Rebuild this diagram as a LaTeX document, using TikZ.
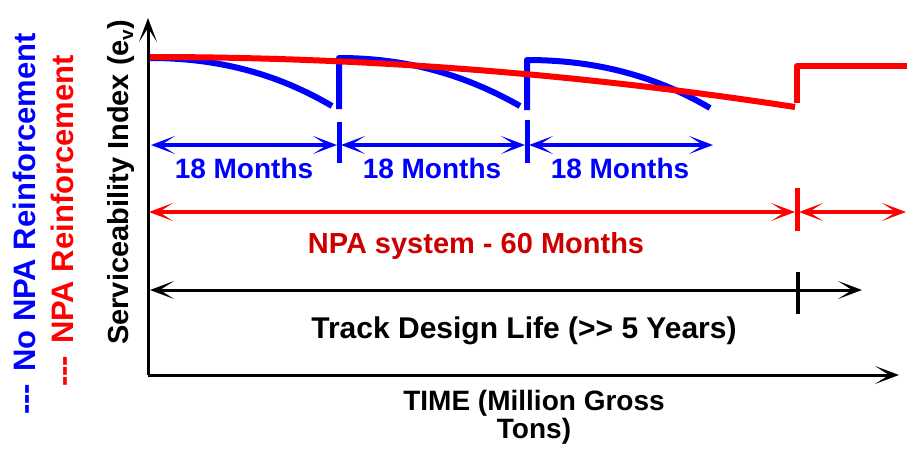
\documentclass[tikz,border=0pt]{standalone}
\usepackage{fontspec}
\setmainfont{Liberation Sans}
\usetikzlibrary{arrows.meta}
\definecolor{npablue}{RGB}{0,0,255}
\definecolor{npared}{RGB}{255,0,0}
\definecolor{labelred}{RGB}{204,0,0}
\tikzset{
  axisline/.style={line width=3pt,->},
  trend/.style={line width=6pt,line join=round},
  dimline/.style={line width=3.5pt,<->},
  tickline/.style={line width=5pt},
  lbl/.style={inner sep=0pt,font=\fontsize{28}{28}\selectfont\bfseries},
  legend/.style={inner sep=0pt,rotate=90,anchor=base west,font=\fontsize{31}{31}\selectfont\bfseries}
}
\begin{document}
\begin{tikzpicture}[x=1pt,y=-1pt,>={Stealth[length=24pt,width=18pt,inset=14pt]}]
\useasboundingbox (0,0) rectangle (907,450);

% axes
\coordinate (O) at (148,375);
\coordinate (ytop) at (148,18);
\coordinate (xend) at (899,375);
\draw[axisline] (O) -- (ytop);
\draw[axisline] (O) -- (xend);

% serviceability without reinforcement: three 18-month cycles
\draw[trend,npablue] (150,58) .. controls (223,58) and (281,76) .. (332,106);
\draw[trend,npablue] (339,109) -- (339,58) .. controls (411,58) and (469,77) .. (520,106);
\draw[trend,npablue] (527,110) -- (527,60) .. controls (600,60) and (659,78) .. (710,108);

% serviceability with NPA reinforcement
\draw[trend,npared] (150,57) .. controls (365,57) and (580,74) .. (795,107);
\draw[trend,npared] (797,103) -- (797,66) -- (907,66);

% 18-month intervals
\coordinate (b0) at (151,145);
\coordinate (b1l) at (337,145);
\coordinate (b1r) at (341,145);
\coordinate (b2l) at (525,145);
\coordinate (b2r) at (529,145);
\coordinate (b3) at (713,145);
\draw[dimline,npablue] (b0) -- (b1l);
\draw[dimline,npablue] (b1r) -- (b2l);
\draw[dimline,npablue] (b2r) -- (b3);
\draw[tickline,npablue] (339,122) -- (339,163);
\draw[tickline,npablue] (527,120) -- (527,163);
\node[lbl,npablue,anchor=base] (m1) at (244,178) {18 Months};
\node[lbl,npablue,anchor=base] (m2) at (432,178) {18 Months};
\node[lbl,npablue,anchor=base] (m3) at (620,178) {18 Months};

% NPA system interval
\coordinate (r0) at (149,212);
\coordinate (r1l) at (795,212);
\coordinate (r1r) at (799,212);
\coordinate (r2) at (906,212);
\draw[dimline,npared] (r0) -- (r1l);
\draw[dimline,npared] (r1r) -- (r2);
\draw[tickline,npared] (797,188) -- (797,231);
\node[lbl,labelred,anchor=base,font=\fontsize{29}{29}\selectfont\bfseries] (npa) at (476,253) {NPA system - 60 Months};

% track design life
\coordinate (k0) at (150,290);
\coordinate (k1) at (862,290);
\draw[dimline,line width=3pt] (k0) -- (k1);
\draw[tickline,line width=4.5pt] (798,272) -- (798,314);
\node[lbl,anchor=base,font=\fontsize{30}{30}\selectfont\bfseries] (life) at (524,338) {Track Design Life (>{}> 5 Years)};

% axis titles
\node[lbl,anchor=base] (xt1) at (534,410) {TIME (Million Gross};
\node[lbl,anchor=base] (xt2) at (534,438) {Tons)};
\node[lbl,rotate=90,anchor=base west,font=\fontsize{29}{29}\selectfont\bfseries] (ytitle) at (128,345)
  {Serviceability Index (e\raisebox{-5pt}{\fontsize{19}{19}\selectfont v})};

% legend
\node[legend,npablue] (leg1) at (35,415) {-{}-{}-\hspace{12pt}No NPA Reinforcement};
\node[legend,npared] (leg2) at (73,387) {-{}-{}-\hspace{12pt}NPA Reinforcement};
\end{tikzpicture}
\end{document}
